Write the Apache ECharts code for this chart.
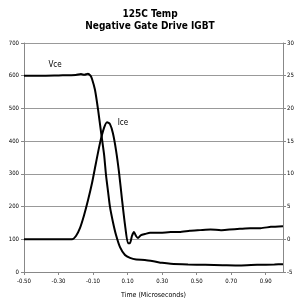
<!DOCTYPE html>
<html>
<head>
<meta charset="utf-8">
<script src="https://cdn.jsdelivr.net/npm/echarts@6/dist/echarts.min.js"></script>
<style>
  html, body { margin: 0; padding: 0; background: #fff; }
  #chart { width: 300px; height: 300px; }
</style>
</head>
<body>
<div id="chart"></div>
<script>
// Vce trace (time in microseconds, volts)
const timeVce = [-0.5, -0.4, -0.3, -0.2, -0.17, -0.15, -0.13, -0.115, -0.106, -0.089, -0.071, -0.054, -0.036, -0.025, -0.013, -0.002, 0.015, 0.033, 0.056, 0.085, 0.114, 0.15, 0.2, 0.25, 0.3, 0.35, 0.45, 0.55, 0.65, 0.75, 0.85, 0.95, 1.0]
const vce = [600, 600, 601, 602, 605, 603, 606, 600, 590, 557, 496, 428, 358, 296, 245, 199, 153, 113, 76, 52, 43, 38, 37, 33, 28, 25, 23, 22, 21, 20, 22, 23, 24]

// Ice trace (time in microseconds, amperes)
const timeIce = [-0.5, -0.3, -0.222, -0.199, -0.176, -0.153, -0.129, -0.106, -0.083, -0.06, -0.037, -0.019, -0.002, 0.015, 0.033, 0.05, 0.068, 0.085, 0.102, 0.114, 0.125, 0.137, 0.149, 0.16, 0.178, 0.201, 0.23, 0.29, 0.35, 0.4, 0.46, 0.52, 0.58, 0.64, 0.69, 0.75, 0.81, 0.87, 0.93, 1.0]
const ice = [0, 0, 0, 0.5, 1.7, 3.6, 6.0, 8.6, 11.7, 14.7, 17.0, 17.9, 17.6, 16.2, 13.6, 10.3, 6.0, 2.2, -0.6, -0.6, 0.5, 1.1, 0.5, 0.2, 0.65, 0.8, 1.0, 1.0, 1.1, 1.1, 1.3, 1.4, 1.5, 1.4, 1.5, 1.6, 1.7, 1.7, 1.9, 2.0]

// x axis is drawn shifted by +0.5 so ticks start at 0
const xShift = 0.5
const font = '"Liberation Sans Narrow", "Arial Narrow", "DejaVu Sans Condensed", sans-serif'

const chart = echarts.init(document.getElementById('chart'))
chart.setOption({
  animation: false,
  title: {
    text: '125C Temp\nNegative Gate Drive IGBT',
    left: 'center',
    top: 3,
    textStyle: { fontFamily: font, fontSize: 10, fontWeight: 'bold', color: '#000', lineHeight: 12 }
  },
  grid: { left: 24, right: 17, top: 43, bottom: 28, containLabel: false, outerBoundsMode: 'none' },
  xAxis: {
    type: 'value',
    min: 0,
    max: 1.5,
    interval: 0.2,
    name: 'Time (Microseconds)',
    nameLocation: 'middle',
    nameGap: 20,
    nameTextStyle: { fontFamily: font, fontSize: 7, color: '#000' },
    axisLine: { lineStyle: { color: '#888' } },
    axisTick: { length: 3, lineStyle: { color: '#888' } },
    axisLabel: {
      fontFamily: font, fontSize: 6, color: '#000', margin: 6, showMaxLabel: false,
      formatter: v => (v - xShift).toFixed(2)
    },
    splitLine: { show: false }
  },
  yAxis: [
    {
      type: 'value',
      min: 0,
      max: 700,
      interval: 100,
      name: 'Vce (Volts)',
      nameLocation: 'middle',
      nameRotate: 90,
      nameGap: 15,
      nameTextStyle: { fontFamily: font, fontSize: 8, fontWeight: 'bold', color: '#000' },
      axisLine: { show: true, lineStyle: { color: '#888' } },
      axisTick: { show: true, length: 3, lineStyle: { color: '#888' } },
      axisLabel: { fontFamily: font, fontSize: 6, color: '#000', margin: 5 },
      splitLine: { lineStyle: { color: '#999', width: 1 } }
    },
    {
      type: 'value',
      min: -5,
      max: 30,
      interval: 5,
      position: 'right',
      name: 'Ice (Amperes)',
      nameLocation: 'middle',
      nameRotate: 90,
      nameGap: 13,
      nameTextStyle: { fontFamily: font, fontSize: 8, fontWeight: 'bold', color: '#000' },
      axisLine: { show: true, lineStyle: { color: '#888' } },
      axisTick: { show: true, length: 3, lineStyle: { color: '#888' } },
      axisLabel: { fontFamily: font, fontSize: 6, color: '#000', margin: 4 },
      splitLine: { show: false }
    }
  ],
  series: [
    {
      name: 'Vce',
      type: 'line',
      yAxisIndex: 0,
      showSymbol: false,
      smooth: 0.2,
      lineStyle: { color: '#000', width: 2 },
      data: timeVce.map((t, i) => [t + xShift, vce[i]]),
      markPoint: {
        symbolSize: 0,
        label: { show: true, formatter: 'Vce', fontFamily: font, fontSize: 8, color: '#000' },
        data: [{ coord: [-0.32 + xShift, 633] }]
      }
    },
    {
      name: 'Ice',
      type: 'line',
      yAxisIndex: 1,
      showSymbol: false,
      smooth: 0.2,
      lineStyle: { color: '#000', width: 2 },
      data: timeIce.map((t, i) => [t + xShift, ice[i]]),
      markPoint: {
        symbolSize: 0,
        label: { show: true, formatter: 'Ice', fontFamily: font, fontSize: 8, color: '#000' },
        data: [{ coord: [0.073 + xShift, 17.8] }]
      }
    }
  ]
})
</script>
</body>
</html>
